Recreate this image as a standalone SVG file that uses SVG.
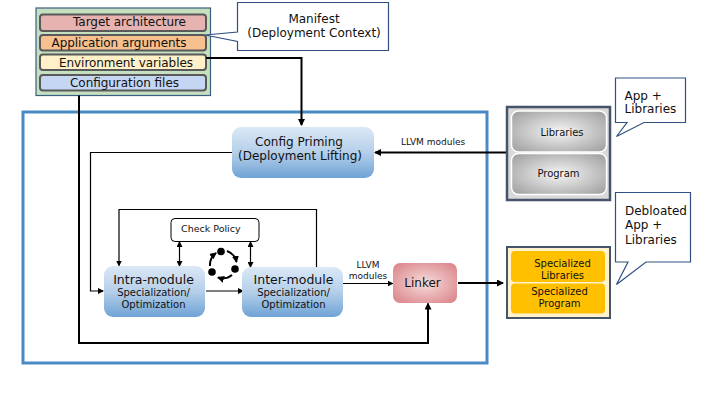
<svg xmlns="http://www.w3.org/2000/svg" width="720" height="405" viewBox="0 0 720 405">
<style>
text{font-family:"DejaVu Sans",Verdana,sans-serif;fill:#111}
.row{stroke:#595959;stroke-width:2}
.call{fill:#fff;stroke:#2f5080;stroke-width:1.2}
.k{fill:none;stroke:#000;stroke-width:1.2}
.k2{fill:none;stroke:#000;stroke-width:2}
.m{text-anchor:middle}
</style>
<defs>
<linearGradient id="bg" x1="0" y1="0" x2="0" y2="1"><stop offset="0" stop-color="#dbe8f6"/><stop offset=".5" stop-color="#b5cfe9"/><stop offset="1" stop-color="#6fa3d6"/></linearGradient>
<radialGradient id="rg" r=".72"><stop offset="0" stop-color="#f5f5f5"/><stop offset="1" stop-color="#999"/></radialGradient>
<radialGradient id="rr" r=".7"><stop offset="0" stop-color="#f6dcdc"/><stop offset="1" stop-color="#d98085"/></radialGradient>
<marker id="a" markerWidth="6" markerHeight="6" refX="5" refY="3" orient="auto-start-reverse" markerUnits="userSpaceOnUse"><path d="M0 0L6 3L0 6z" fill="#000"/></marker>
<marker id="b" markerWidth="7" markerHeight="7" refX="6" refY="3.500" orient="auto" markerUnits="userSpaceOnUse"><path d="M0 0L7 3.500L0 7z" fill="#000"/></marker>
</defs>
<rect id="frame" x="23" y="112" width="464" height="251" fill="none" stroke="#4a8ac4" stroke-width="3"/>
<g id="manifest-group">
<rect x="36" y="8" width="174.500" height="87.500" fill="#c5dfc0" stroke="#3b5f80" stroke-width="1.200"/>
<g id="target"><rect class="row" x="40" y="14.500" width="166" height="16.500" rx="3" fill="#e6b3b0"/><text x="73" y="26" font-size="12" textLength="113">Target architecture</text></g>
<g id="args"><rect class="row" x="40" y="35" width="166" height="15.500" rx="3" fill="#f6c08f"/><text x="51.500" y="47" font-size="12" textLength="135">Application arguments</text></g>
<g id="env"><rect class="row" x="40" y="54.500" width="166" height="15.500" rx="3" fill="#fff0c8"/><text x="59" y="67" font-size="12" textLength="134">Environment variables</text></g>
<g id="config"><rect class="row" x="40" y="75" width="166" height="15.500" rx="3" fill="#c5d6f2"/><text x="70" y="87" font-size="12" textLength="109">Configuration files</text></g>
</g>
<g id="connectors">
<path class="k2" d="M206 58H301.500V125" marker-end="url(#b)"/>
<path class="k2" d="M79 95.500V343H428V303.500" marker-end="url(#b)"/>
<path class="k" d="M232 152.500H90.500V291H103" marker-end="url(#a)"/>
<path class="k2" d="M507 152.500H375" marker-end="url(#b)"/>
<path class="k" d="M316.500 267V209.500H119V265.500" marker-end="url(#a)"/>
<path class="k" d="M179.500 242V266" marker-start="url(#a)" marker-end="url(#a)"/>
<path class="k" d="M250.500 242V267" marker-start="url(#a)" marker-end="url(#a)"/>
<path class="k" d="M206 291H243" marker-end="url(#a)"/>
<path class="k" d="M343 283.500H392.500" marker-end="url(#a)"/>
<path class="k2" d="M458 283H503" marker-end="url(#b)"/>
</g>
<g id="priming"><rect x="232" y="127" width="142" height="51" rx="9" fill="url(#bg)"/><text class="m" x="299" y="146" font-size="12">Config Priming</text><text class="m" x="300" y="160" font-size="12">(Deployment Lifting)</text></g>
<text id="llvm1" class="m" x="433" y="145" font-size="9">LLVM modules</text>
<g id="check"><rect x="171" y="218.500" width="88" height="23" rx="4" fill="#fff" stroke="#000" stroke-width="1"/><text x="181" y="232" font-size="9.500">Check Policy</text></g>
<g id="cycle">
<circle cx="221" cy="251.500" r="3.800" fill="#000"/><circle cx="235" cy="269" r="3.800" fill="#000"/><circle cx="212" cy="272" r="3.800" fill="#000"/>
<path d="M227 251Q235 254 236.500 262" fill="none" stroke="#000" stroke-width="2" marker-end="url(#b)"/>
<path d="M232 275Q226 280 218 277.500" fill="none" stroke="#000" stroke-width="2" marker-end="url(#b)"/>
<path d="M210 266Q209.500 258 216 253" fill="none" stroke="#000" stroke-width="2" marker-end="url(#b)"/>
</g>
<g id="intra"><rect x="104" y="266" width="101" height="51" rx="9" fill="url(#bg)"/><text class="m" x="153.500" y="284" font-size="12.500">Intra-module</text><text class="m" x="153.500" y="296" font-size="10">Specialization/</text><text class="m" x="153.500" y="308" font-size="10">Optimization</text></g>
<g id="inter"><rect x="242" y="267" width="101" height="50" rx="9" fill="url(#bg)"/><text class="m" x="293.500" y="284" font-size="12.500">Inter-module</text><text class="m" x="293.500" y="296" font-size="10">Specialization/</text><text class="m" x="293.500" y="308" font-size="10">Optimization</text></g>
<g id="llvm2"><text class="m" x="368" y="268" font-size="9">LLVM</text><text class="m" x="368" y="279" font-size="9">modules</text></g>
<g id="linker"><rect x="393" y="263" width="64" height="40" rx="7" fill="url(#rr)"/><text class="m" x="422.500" y="287" font-size="12">Linker</text></g>
<g id="input"><rect x="507" y="107" width="103" height="93" fill="#d9d9d9" stroke="#44546a" stroke-width="2.500"/>
<rect x="511.500" y="111" width="95" height="41" rx="7" fill="url(#rg)" stroke="#fff" stroke-width="1.500"/><rect x="511.500" y="153.500" width="95" height="41" rx="7" fill="url(#rg)" stroke="#fff" stroke-width="1.500"/>
<text class="m" x="562" y="136" font-size="10">Libraries</text><text class="m" x="558.500" y="177" font-size="10">Program</text></g>
<g id="output"><rect x="507" y="247" width="103" height="71" fill="#fff2cc" stroke="#44546a" stroke-width="2"/>
<rect x="511" y="251" width="94" height="31" rx="4" fill="#ffc000"/><rect x="511" y="283.500" width="94" height="30" rx="4" fill="#ffc000"/>
<text class="m" x="562.500" y="267" font-size="10">Specialized</text><text class="m" x="562.500" y="279" font-size="10">Libraries</text><text class="m" x="559.500" y="295" font-size="10">Specialized</text><text class="m" x="559.500" y="307" font-size="10">Program</text></g>
<g id="callout-manifest"><path class="call" d="M237.500 2.500H388.500V50.500H237.500V41.500L205 35L237.500 32Z"/><text class="m" x="314" y="23" font-size="12">Manifest</text><text class="m" x="314" y="37" font-size="12">(Deployment Context)</text></g>
<g id="callout-app"><path class="call" d="M615.500 78H685.500V122.500H644L616.500 136.500L627 122.500H615.500Z"/><text x="624.500" y="100" font-size="12">App +</text><text x="624.500" y="113" font-size="12">Libraries</text></g>
<g id="callout-debloated"><path class="call" d="M615.500 192.500H690.500V262H646L616.500 284.500L628 262H615.500Z"/><text x="625" y="215" font-size="12">Debloated</text><text x="625" y="229" font-size="12">App +</text><text x="625" y="244" font-size="12">Libraries</text></g>
</svg>
